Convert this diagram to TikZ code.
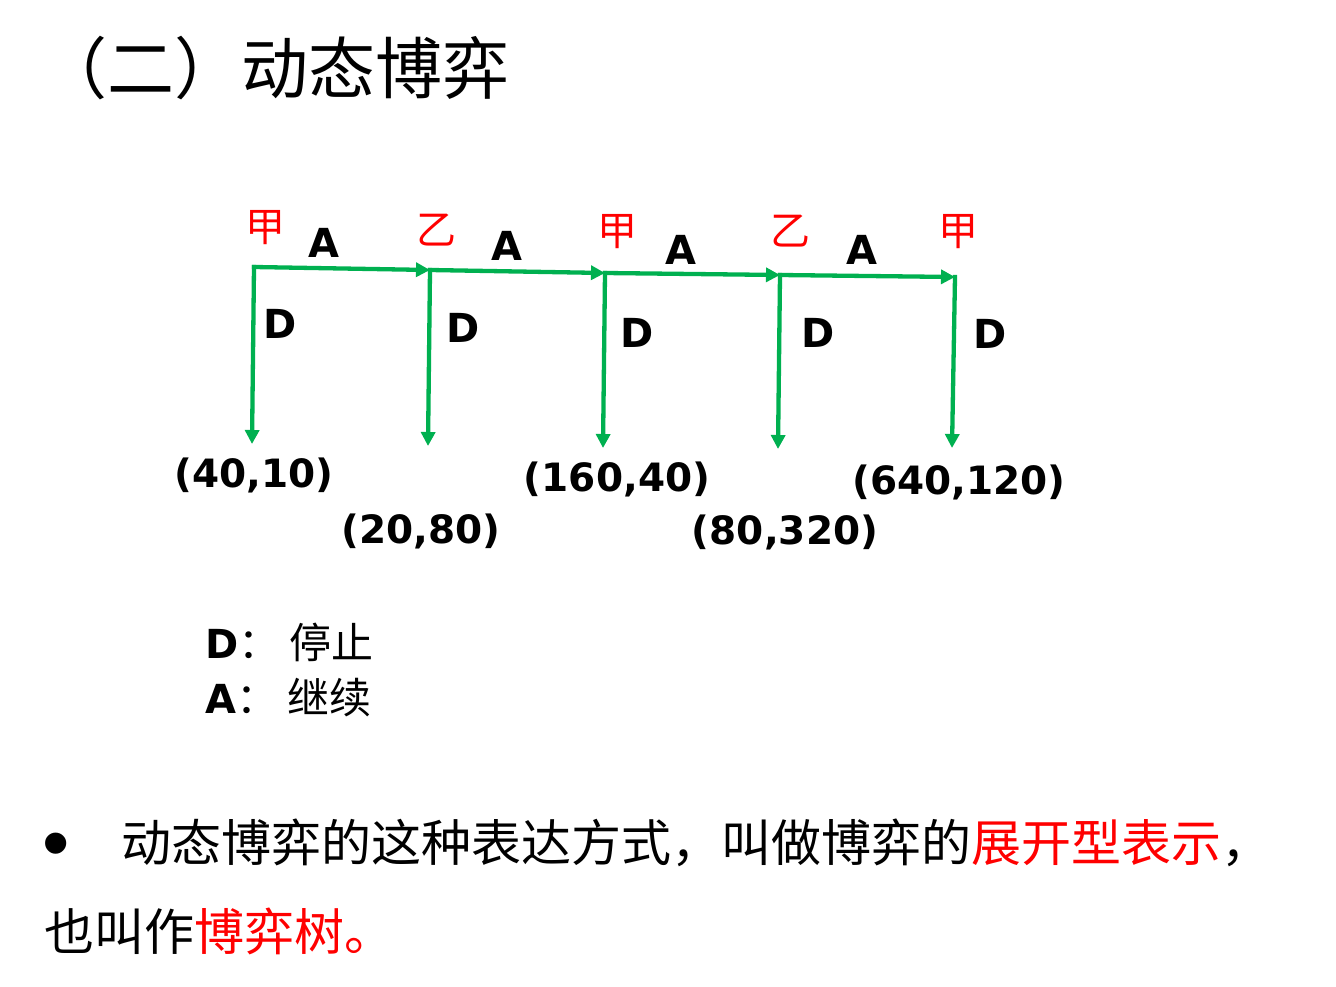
\documentclass[tikz,border=0pt]{standalone}
\usepackage{fontspec}
\setmainfont{DejaVu Sans}
\newfontfamily\cjk{Noto Sans CJK SC}
\newfontfamily\bulfont{Liberation Sans}
\usetikzlibrary{arrows.meta}
\definecolor{pgreen}{HTML}{00B050}
\definecolor{pred}{HTML}{FF0000}
\begin{document}
\begin{tikzpicture}[x=1pt,y=-1pt,
  branch/.style={draw=pgreen, line width=4.3pt, line cap=rect, -{Triangle[length=14pt,width=14pt]}},
  player/.style={text=pred, font=\cjk\fontsize{40}{48}\selectfont, inner sep=0pt, anchor=base},
  act/.style={font=\bfseries\fontsize{40}{48}\selectfont, inner sep=0pt, anchor=base},
  pay/.style={font=\bfseries\fontsize{39}{46}\selectfont, inner sep=0pt, anchor=base},
  legend/.style={font=\fontsize{42}{50}\selectfont, inner sep=0pt, anchor=base west},
  body/.style={font=\cjk\fontsize{50}{60}\selectfont, inner sep=0pt, anchor=base west}]
\useasboundingbox (0,0) rectangle (1336,987);

% title
\node[inner sep=0pt, anchor=base west, font=\cjk\fontsize{67}{80}\selectfont] (title) at (40,94) {（二）动态博弈};

% decision points
\coordinate (n1) at (254,267);
\coordinate (n2) at (430,270);
\coordinate (n3) at (605,273);
\coordinate (n4) at (780,275);
\coordinate (n5) at (955,277);
% end points
\coordinate (t1) at (252,444);
\coordinate (t2) at (428,446);
\coordinate (t3) at (603,448);
\coordinate (t4) at (778,449);
\coordinate (t5) at (952,448);

\draw[branch] (n1) -- (n2);
\draw[branch] (n2) -- (n3);
\draw[branch] (n3) -- (n4);
\draw[branch] (n4) -- (n5);
\draw[branch] (n1) -- (t1);
\draw[branch] (n2) -- (t2);
\draw[branch] (n3) -- (t3);
\draw[branch] (n4) -- (t4);
\draw[branch] (n5) -- (t5);

% players
\node[player] (p1) at (265,241) {甲};
\node[player] (p2) at (436,244) {乙};
\node[player] (p3) at (617,245) {甲};
\node[player] (p4) at (790,245) {乙};
\node[player] (p5) at (958,245) {甲};

% actions
\node[act] (a1) at (324,258) {A};
\node[act] (a2) at (507,260) {A};
\node[act] (a3) at (681,265) {A};
\node[act] (a4) at (862,265) {A};
\node[act] (d1) at (280,338) {D};
\node[act] (d2) at (463,342) {D};
\node[act] (d3) at (637,347) {D};
\node[act] (d4) at (818,347) {D};
\node[act] (d5) at (990,348) {D};

% payoffs
\node[pay] (o1) at (254,487) {(40,10)};
\node[pay] (o2) at (421,543) {(20,80)};
\node[pay] (o3) at (617,491) {(160,40)};
\node[pay] (o4) at (785,544) {(80,320)};
\node[pay] (o5) at (959,494) {(640,120)};

% legend
\node[legend] (lgD) at (205,658) {{\bfseries\fontsize{40}{48}\selectfont D}{\cjk ：\hspace{9pt}停止}};
\node[legend] (lgA) at (205,713) {{\bfseries\fontsize{40}{48}\selectfont A}{\cjk ：\hspace{9pt}继续}};

% body text
\node[inner sep=0pt, font=\bulfont\fontsize{78}{90}\selectfont] (bullet) at (56,851) {•};
\node[body] (line1) at (121,861) {动态博弈的这种表达方式，叫做博弈的\textcolor{pred}{展开型表示}，};
\node[body] (line2) at (44,950) {也叫作\textcolor{pred}{博弈树。}};
\end{tikzpicture}
\end{document}
